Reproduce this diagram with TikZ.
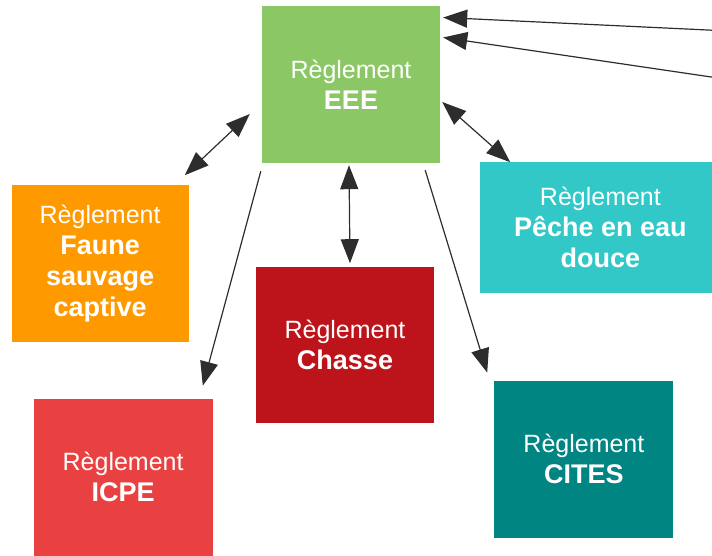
\documentclass[tikz,border=0pt]{standalone}
\usepackage{fontspec}
\setmainfont{Liberation Sans}
\usepackage{xcolor}
\definecolor{eeegreen}{RGB}{139,199,101}
\definecolor{fauneorange}{RGB}{255,153,0}
\definecolor{icpered}{RGB}{233,65,65}
\definecolor{chassered}{RGB}{188,20,26}
\definecolor{pecheteal}{RGB}{50,200,200}
\definecolor{citesteal}{RGB}{0,133,130}
\definecolor{arrowgray}{RGB}{45,45,45}
\usetikzlibrary{
  arrows.meta,
  positioning
}
\tikzset{
  reglbox/.style={rectangle, inner sep=0pt,
    minimum width=178pt, minimum height=157pt,
    align=center, text=white, font=\fontsize{25}{31}\selectfont},
  arr/.style={-{Triangle[length=24pt, width=18pt]}, line width=1.2pt, draw=arrowgray},
  biarr/.style={{Triangle[length=24pt, width=18pt]}-{Triangle[length=24pt, width=18pt]},
    line width=1.2pt, draw=arrowgray},
}
\newcommand{\nm}[1]{{\bfseries\fontsize{27}{31}\selectfont #1}}

\begin{document}
\begin{tikzpicture}[x=1pt, y=1pt]
  \clip (0,0) rectangle (712,-556);
  \useasboundingbox (0,0) rectangle (712,-556);

  % Central regulation
  \node[reglbox, fill=eeegreen] (eee) at (351,-84.5)
    {Règlement\\\nm{EEE}};

  % Linked regulations
  \node[reglbox, fill=fauneorange, minimum width=177pt,
        below left=22pt and 73pt of eee] (faune)
    {Règlement\\\nm{Faune}\\\nm{sauvage}\\\nm{captive}};
  \node[reglbox, fill=chassered, minimum height=156pt,
        below=104pt of eee, xshift=-6pt] (chasse)
    {Règlement\\\nm{Chasse}};
  \node[reglbox, fill=pecheteal, minimum width=240pt, minimum height=131pt,
        below right=-1pt and 40pt of eee] (peche)
    {Règlement\\\nm{Pêche en eau}\\\nm{douce}};
  \node[reglbox, fill=icpered, minimum width=179pt,
        below=56pt of faune, xshift=23pt] (icpe)
    {Règlement\\\nm{ICPE}};
  \node[reglbox, fill=citesteal, minimum width=179pt,
        below=87pt of peche, xshift=-16.5pt] (cites)
    {Règlement\\\nm{CITES}};

  % Incoming links from the right
  \coordinate (src1) at (718,-30.5);
  \coordinate (src2) at (718,-78);
  \draw[arr] (src1) -- ([xshift=3pt, yshift=67pt]eee.east);
  \draw[arr] (src2) -- ([xshift=3pt, yshift=47pt]eee.east);

  % Arrows
  \draw[biarr] ([xshift=-4pt, yshift=10pt]faune.north east)
    -- ([xshift=-12pt, yshift=-29.5pt]eee.west);
  \draw[biarr] ([xshift=2pt, yshift=-17.5pt]eee.east)
    -- ([xshift=30pt, yshift=0pt]peche.north west);
  \draw[biarr] ([xshift=-2pt, yshift=-2pt]eee.south)
    -- ([xshift=5pt, yshift=4pt]chasse.north);
  \draw[arr] ([xshift=-1pt, yshift=-8pt]eee.south west)
    -- ([xshift=-10pt, yshift=13pt]icpe.north east);
  \draw[arr] ([xshift=-15pt, yshift=-7pt]eee.south east)
    -- ([xshift=-7pt, yshift=8pt]cites.north west);
\end{tikzpicture}
\end{document}
